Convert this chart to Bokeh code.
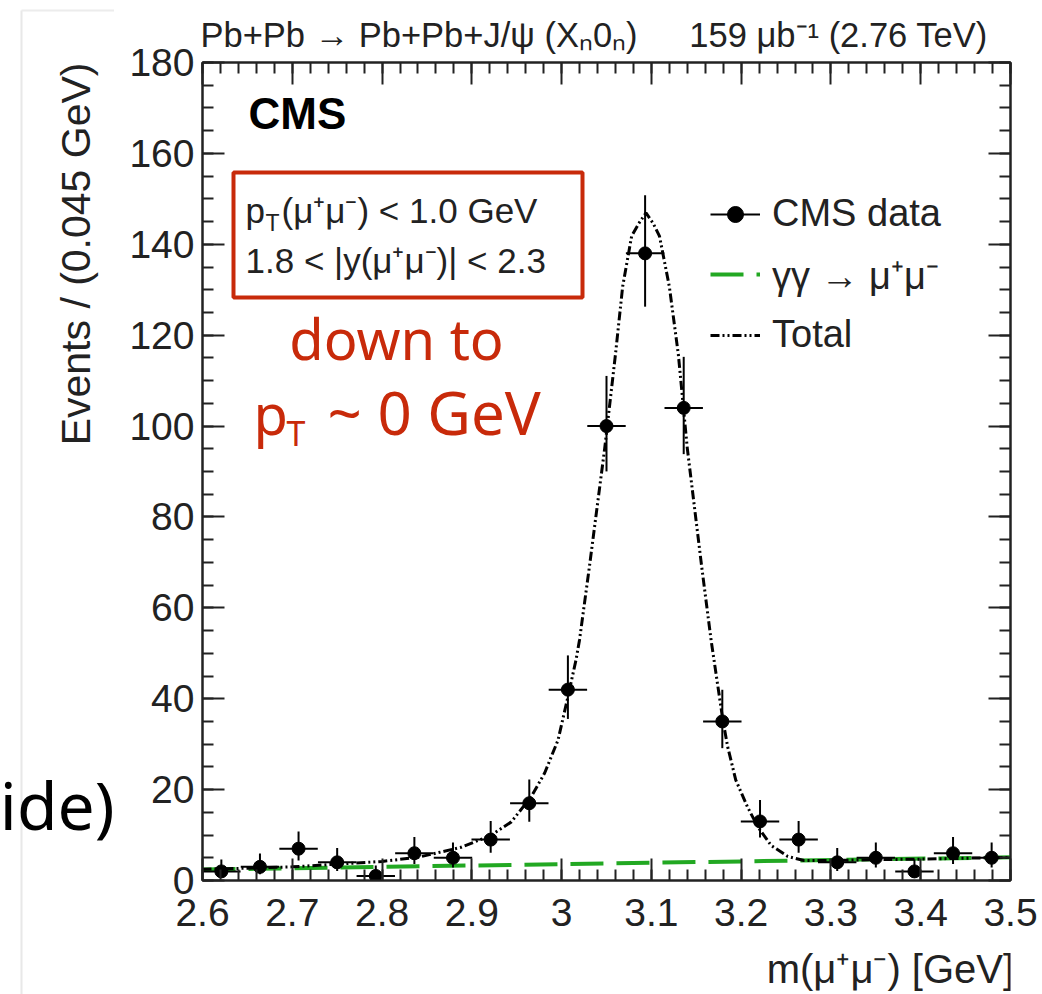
import numpy as np
from bokeh.plotting import figure
from bokeh.layouts import row, column
from bokeh.models import (Range1d, LinearAxis, FixedTicker, Label, BoxAnnotation,
                          Legend, LegendItem, ColumnDataSource)
from bokeh.embed import file_html
from bokeh.resources import INLINE

# ---------------- data ----------------
mass = [2.621, 2.664, 2.707, 2.750, 2.793, 2.836, 2.879, 2.921, 2.964, 3.007, 3.050,
        3.093, 3.136, 3.179, 3.221, 3.264, 3.307, 3.350, 3.393, 3.436, 3.479]
events = [2, 3, 7, 4, 1, 6, 5, 9, 17, 42, 100, 138, 104, 35, 13, 9, 4, 5, 2, 6, 5]
err_up = [2.64, 2.92, 3.77, 3.16, 2.30, 3.58, 3.38, 4.10, 5.20, 7.53, 11.03, 12.77,
          11.23, 6.97, 4.69, 4.10, 3.16, 3.38, 2.64, 3.58, 3.38]
err_dn = [1.29, 1.63, 2.58, 1.91, 0.83, 2.38, 2.16, 2.90, 4.08, 6.45, 9.98, 11.73,
          10.18, 5.88, 3.55, 2.90, 1.91, 2.16, 1.29, 2.38, 2.16]
bin_half = 0.0214

bkg_x = [2.60, 3.50]
bkg_y = [2.4, 5.1]

total_x = [2.60, 2.65, 2.70, 2.75, 2.80, 2.84, 2.888, 2.921, 2.944, 2.966, 2.981, 2.996,
           3.007, 3.016, 3.020, 3.031, 3.048, 3.060, 3.068, 3.078, 3.086, 3.094, 3.102,
           3.109, 3.120, 3.130, 3.140, 3.156, 3.1665, 3.1796, 3.185, 3.194, 3.207, 3.2186,
           3.2334, 3.252, 3.27, 3.30, 3.35, 3.40, 3.45, 3.50]
total_y = [2.5, 2.7, 3.0, 3.6, 4.2, 5.1, 7.3, 9.9, 12.9, 18.4, 23.6, 30.9,
           40.4, 48.5, 53.0, 69.1, 95.1, 115.8, 130.7, 141.8, 144.6, 146.9, 144.6,
           141.8, 130.7, 115.8, 95.1, 69.1, 52.9, 35.3, 29.4, 22.1, 16.2, 11.8,
           7.7, 5.3, 4.4, 4.4, 4.6, 4.7, 4.9, 5.1]

x_ticks = [2.6, 2.7, 2.8, 2.9, 3.0, 3.1, 3.2, 3.3, 3.4, 3.5]
x_labels = ["2.6", "2.7", "2.8", "2.9", "3", "3.1", "3.2", "3.3", "3.4", "3.5"]
y_ticks = [0, 20, 40, 60, 80, 100, 120, 140, 160, 180]
y_labels = ["0", "20", "40", "60", "80", "100", "120", "140", "160", "180"]

header_text = "Pb+Pb → Pb+Pb+J/ψ (Xₙ0ₙ)\u2003\u2002159 μb⁻¹ (2.76 TeV)"
y_title = "Events / (0.045 GeV)"
x_title = "m(μ⁺μ⁻) [GeV]"
slide_fragment = "ide)"

# ---------------- geometry / styling ----------------
FONT = "Liberation Sans"
RED = "#c82a0a"
GREEN = "#22a822"
INK = "#222222"

W, H = 1042, 994
SIDE_W = 114          # left strip (y title, slide fragment)
BOTTOM_H = 49         # bottom strip (x title)
FL, FR, FT, FB = 202, 1010, 62, 880   # frame edges in page pixels
X0, X1, Y0, Y1 = 2.6, 3.5, 0, 180


def dx(px):
    return X0 + (px - FL) * (X1 - X0) / (FR - FL)


def dy(py):
    return Y0 + (FB - py) * (Y1 - Y0) / (FB - FT)


def mid_of(baseline_px, size, font):
    factor = 0.43 if font == "Noto Sans" else 0.37
    return baseline_px - factor * size


main_w, main_h = W - SIDE_W, H - BOTTOM_H
p = figure(width=main_w, height=main_h, x_range=Range1d(X0, X1), y_range=Range1d(Y0, Y1),
           output_backend="svg", toolbar_location=None,
           min_border_left=FL - SIDE_W, min_border_right=W - FR, min_border_top=FT,
           min_border_bottom=main_h - FB)
p.grid.visible = False
p.outline_line_color = INK
p.outline_line_width = 2
p.background_fill_color = "white"
p.border_fill_color = "white"

x_minor = [round(v, 3) for v in np.arange(2.6, 3.5001, 0.02)]
y_minor = list(range(0, 181, 5))
xt = FixedTicker(ticks=x_ticks, minor_ticks=x_minor)
yt = FixedTicker(ticks=y_ticks, minor_ticks=y_minor)


def style_axis(ax):
    ax.axis_line_color = INK
    ax.axis_line_width = 2
    ax.major_tick_in = 22
    ax.major_tick_out = 0
    ax.minor_tick_in = 11
    ax.minor_tick_out = 0
    ax.major_tick_line_color = INK
    ax.major_tick_line_width = 2
    ax.minor_tick_line_color = INK
    ax.minor_tick_line_width = 2
    ax.major_label_text_font = FONT
    ax.major_label_text_font_size = "39px"
    ax.major_label_text_color = INK


xa = p.xaxis[0]
xa.ticker = xt
xa.major_label_overrides = dict(zip(x_ticks, x_labels))
style_axis(xa)
xa.major_label_standoff = 18

ya = p.yaxis[0]
ya.ticker = yt
ya.major_label_overrides = dict(zip(y_ticks, y_labels))
style_axis(ya)
ya.major_label_standoff = 8


# mirrored tick marks on the right and top edges (no labels: ticks given as minor ticks)
def mirror(side, major_pos, minor_pos):
    for pos, length, line in ((major_pos, 22, INK), (minor_pos, 11, None)):
        ax = LinearAxis(ticker=FixedTicker(ticks=[], minor_ticks=pos))
        ax.axis_line_color = line
        ax.axis_line_width = 2
        ax.major_tick_line_color = None
        ax.minor_tick_in = length
        ax.minor_tick_out = 0
        ax.minor_tick_line_color = INK
        ax.minor_tick_line_width = 2
        ax.major_label_standoff = 0
        p.add_layout(ax, side)


mirror("right", y_ticks, y_minor)
mirror("above", x_ticks, x_minor)

p.title.text = header_text
p.title.align = "left"
p.title.offset = -2
p.title.standoff = 17
p.title.text_font = FONT
p.title.text_font_size = "34.5px"
p.title.text_font_style = "normal"
p.title.text_color = INK

# ---------------- glyphs ----------------
src = ColumnDataSource(dict(
    x=mass, y=events,
    ylo=[e - d for e, d in zip(events, err_dn)],
    yhi=[e + u for e, u in zip(events, err_up)],
    xlo=[m - bin_half for m in mass],
    xhi=[m + bin_half for m in mass],
))

bkg_r = p.line(bkg_x, bkg_y, line_color=GREEN, line_width=4, line_dash="33 13")
tot_r = p.line(total_x, total_y, line_color="black", line_width=3, line_dash="9 3 2 3 2 3")
p.segment(x0="x", y0="ylo", x1="x", y1="yhi", source=src, line_color="black", line_width=2)
p.segment(x0="xlo", y0="y", x1="xhi", y1="y", source=src, line_color="black", line_width=2)
dat_r = p.scatter("x", "y", source=src, marker="circle", size=13, fill_color="black",
                  line_color="black")
leg_line = p.line(x=[np.nan, np.nan], y=[np.nan, np.nan], line_color="black", line_width=2)

legend = Legend(items=[
    LegendItem(label="CMS data", renderers=[leg_line, dat_r]),
    LegendItem(label="γγ → μ⁺μ⁻", renderers=[bkg_r]),
    LegendItem(label="Total", renderers=[tot_r]),
], location=(508, 524))
legend.border_line_color = None
legend.background_fill_alpha = 0
legend.label_text_font = FONT
legend.label_text_font_size = "38px"
legend.label_text_color = INK
legend.glyph_width = 50
legend.glyph_height = 40
legend.label_height = 40
legend.spacing = 13
legend.padding = 0
legend.margin = 0
legend.label_standoff = 12
p.add_layout(legend)

p.add_layout(BoxAnnotation(left=dx(233), right=dx(582), top=dy(172), bottom=dy(297),
                           fill_color=None, line_color=RED, line_alpha=1.0, line_width=4))


def txt(px, baseline_px, s, size, font=FONT, color=INK, align="left", style="normal"):
    p.add_layout(Label(x=dx(px), y=dy(mid_of(baseline_px, size, font)), text=s,
                       text_font=font, text_font_size=f"{size}px", text_color=color,
                       text_align=align, text_baseline="middle", text_font_style=style))


txt(248, 129, "CMS", 44, color="black", style="bold")

txt(245, 223, "p", 35)
txt(265, 231, "T", 23)
txt(281, 223, "(μ⁺μ⁻) < 1.0 GeV", 35)
txt(245, 273, "1.8 < |y(μ⁺μ⁻)| < 2.3", 35)

txt(396, 362, "down to", 56, font="Noto Sans", color=RED, align="center")
txt(253, 437, "p", 56, font="Noto Sans", color=RED)
txt(286, 447, "T", 34, font="Noto Sans", color=RED)
txt(327, 437, "~ 0 GeV", 60, font="Noto Sans", color=RED)


# ---------------- side strips (page pixel coordinates) ----------------
def strip(width, height):
    f = figure(width=width, height=height, x_range=Range1d(0, width),
               y_range=Range1d(0, height), x_axis_type=None, y_axis_type=None,
               output_backend="svg", toolbar_location=None, min_border=0)
    f.grid.visible = False
    f.outline_line_color = None
    f.background_fill_color = "white"
    f.border_fill_color = "white"
    return f


side = strip(SIDE_W, H)
side.line([21, 21], [0, H - 10], line_color="#e8e8e8", line_width=2)
side.line([21, SIDE_W], [H - 10, H - 10], line_color="#ececec", line_width=2)
side.add_layout(Label(x=mid_of(91, 41, FONT), y=H - FT, text=y_title, text_font=FONT,
                      text_font_size="41px", text_color=INK, text_align="right",
                      text_baseline="middle", angle=90, angle_units="deg"))
side.add_layout(Label(x=114, y=H - mid_of(832, 66, "Noto Sans"), text=slide_fragment,
                      text_font="Noto Sans", text_font_size="66px", text_color="black",
                      text_align="right", text_baseline="middle"))

bottom = strip(main_w, BOTTOM_H)
bottom.add_layout(Label(x=762 - SIDE_W, y=BOTTOM_H - (mid_of(983, 40, FONT) - main_h),
                        text=x_title, text_font=FONT, text_font_size="40px",
                        text_color=INK, text_align="left", text_baseline="middle"))

layout = row(side, column(p, bottom, spacing=0), spacing=0)
open("out.html", "w").write(file_html(layout, INLINE))
